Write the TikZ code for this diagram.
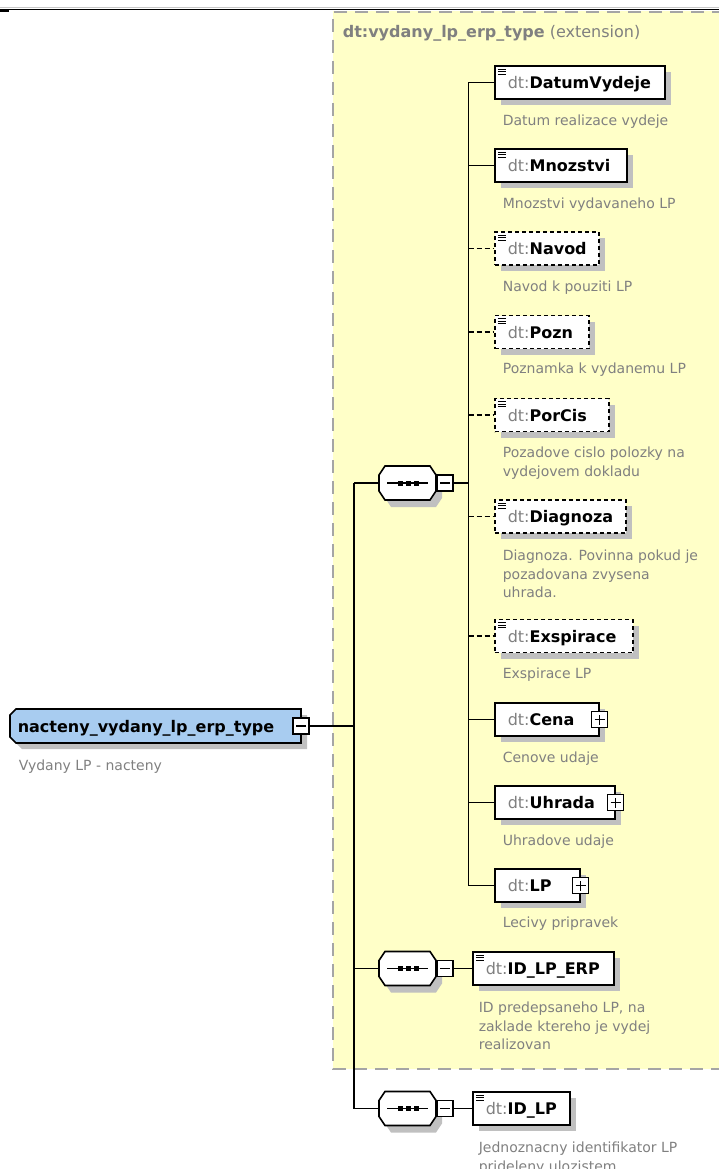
\documentclass[tikz,border=0pt]{standalone}
\usepackage{fontspec}
\setmainfont{DejaVu Sans}
\usetikzlibrary{shadows}

\definecolor{noteyellow}{RGB}{255,255,200}
\definecolor{typeblue}{RGB}{168,204,240}
\definecolor{shadegray}{RGB}{192,192,192}
\definecolor{infogray}{RGB}{128,128,128}
\definecolor{edgegray}{RGB}{165,165,165}

\newcommand\pfx{\textcolor{infogray}{dt:}}
\newcommand\namesize{\fontsize{16}{19}\selectfont}
\newcommand\descsize{\fontsize{14}{18.5}\selectfont}

\tikzset{
  elem/.style={draw=black, line width=1.6pt, fill=white, anchor=west,
    minimum height=33pt, inner xsep=13pt, inner ysep=0pt, align=left,
    text height=13.5pt, text depth=1.5pt, font=\namesize,
    drop shadow={shadow xshift=6pt, shadow yshift=-6pt, fill=shadegray, opacity=1}},
  optelem/.style={elem, dash pattern=on 4pt off 3pt},
  simple/.style={path picture={\foreach \k in {0,1,2}
      \draw[solid, line width=0.8pt] ([shift={(3pt,-3pt-2.5pt*\k)}]path picture bounding box.north west) -- ++(8pt,0);}},
  signbox/.style={draw=black, fill=white, line width=1.3pt, minimum width=16pt,
    minimum height=16pt, inner sep=0pt},
  minus/.style={signbox, path picture={\draw[line width=1.2pt]
      ([xshift=3pt]path picture bounding box.west) -- ([xshift=-3pt]path picture bounding box.east);}},
  plus/.style={signbox, path picture={\draw[line width=1.2pt]
      ([xshift=3pt]path picture bounding box.west) -- ([xshift=-3pt]path picture bounding box.east)
      ([yshift=3pt]path picture bounding box.south) -- ([yshift=-3pt]path picture bounding box.north);}},
  desc/.style={anchor=north west, inner sep=0pt, align=left, font=\descsize, text=infogray},
  opt/.style={dash pattern=on 5pt off 3pt}
}

% sequence compositor: name, middle y
\newcommand\seqgroup[2]{%
  \begin{scope}[shift={(379,#2)}]
    \fill[shadegray, shift={(6,7)}] (6,-17) -- (51,-17) -- (57,-8) -- (57,8) -- (51,17) -- (6,17) -- (0,8) -- (0,-8) -- cycle;
    \filldraw[fill=white, line width=1.6pt] (6,-17) -- (51,-17) -- (57,-8) -- (57,8) -- (51,17) -- (6,17) -- (0,8) -- (0,-8) -- cycle;
    \draw[line width=1.4pt] (8,0) -- (49,0);
    \foreach \d in {21,29,37} \fill (\d-2.5,-2.5) rectangle (\d+2.5,2.5);
  \end{scope}
  \node[inner sep=0pt, minimum width=57pt, minimum height=34pt] (#1) at (407.5,#2) {};
  \node[minus] (#1m) at (445,#2) {};
}

\begin{document}
\begin{tikzpicture}[x=1pt, y=-1pt, line width=1.6pt]
  \useasboundingbox (0,0) rectangle (719,1169);

  % window edge
  \draw[line width=1pt, black!22] (0,8) -- (719,8);
  \draw[line width=1.2pt] (0,9.6) -- (719,9.6);
  \draw[line width=1.5pt] (0,10.8) -- (9,10.8);

  % extension area
  \fill[noteyellow] (333,11) rectangle (725,1069);
  \draw[edgegray, line width=2pt, dash pattern=on 13pt off 8pt] (725,12) -- (333,12) -- (333,1069) -- (725,1069);
  \node[anchor=west, inner sep=0pt, font=\namesize, text=infogray] (ext) at (342,33)
    {\textbf{dt:vydany\_lp\_erp\_type} (extension)};

  % root type
  \fill[shadegray, shift={(6,6)}] (16,709) -- (301,709) -- (301,743) -- (16,743) -- (10,737) -- (10,715) -- cycle;
  \filldraw[fill=typeblue, line width=1.6pt] (16,709) -- (301,709) -- (301,743) -- (16,743) -- (10,737) -- (10,715) -- cycle;
  \node[anchor=west, inner sep=0pt, font=\namesize\bfseries, text height=13.5pt, text depth=1.5pt] (root) at (17,726)
    {nacteny\_vydany\_lp\_erp\_type};
  \node[minus] (rootm) at (301,726) {};
  \node[desc] (rootd) at (18,759.4) {Vydany LP - nacteny};

  % compositors
  \seqgroup{seqa}{483}
  \seqgroup{seqb}{968.5}
  \seqgroup{seqc}{1108.5}

  % elements of the first sequence
  \node[elem, simple, text width=144pt] (datum) at (494,82.5) {\pfx\textbf{DatumVydeje}};
  \node[desc] (datumd) at (502,114.4) {Datum realizace vydeje};
  \node[elem, simple, text width=106pt] (mnoz) at (494,165.5) {\pfx\textbf{Mnozstvi}};
  \node[desc] (mnozd) at (502,197.4) {Mnozstvi vydavaneho LP};
  \node[optelem, simple, text width=78pt] (navod) at (494,248.5) {\pfx\textbf{Navod}};
  \node[desc] (navodd) at (502,280.4) {Navod k pouziti LP};
  \node[optelem, simple, text width=68pt] (pozn) at (494,332) {\pfx\textbf{Pozn}};
  \node[desc] (poznd) at (502,362.4) {Poznamka k vydanemu LP};
  \node[optelem, simple, text width=88pt] (porcis) at (494,415) {\pfx\textbf{PorCis}};
  \node[desc] (porcisd) at (502,446.4) {Pozadove cislo polozky na\\vydejovem dokladu};
  \node[optelem, simple, text width=105pt] (diag) at (494,516.5) {\pfx\textbf{Diagnoza}};
  \node[desc] (diagd) at (502,549.4) {Diagnoza. Povinna pokud je\\pozadovana zvysena\\uhrada.};
  \node[optelem, simple, text width=112pt] (exsp) at (494,636) {\pfx\textbf{Exspirace}};
  \node[desc] (exspd) at (502,667.4) {Exspirace LP};
  \node[elem, text width=78pt] (cena) at (494,719.5) {\pfx\textbf{Cena}};
  \node[plus] (cenap) at (cena.east) {};
  \node[desc] (cenad) at (502,751.4) {Cenove udaje};
  \node[elem, text width=94pt] (uhr) at (494,802.5) {\pfx\textbf{Uhrada}};
  \node[plus] (uhrp) at (uhr.east) {};
  \node[desc] (uhrd) at (502,834.4) {Uhradove udaje};
  \node[elem, text width=59pt] (lp) at (494,885.5) {\pfx\textbf{LP}};
  \node[plus] (lpp) at (lp.east) {};
  \node[desc] (lpd) at (502,916.4) {Lecivy pripravek};

  % identifiers
  \node[elem, simple, text width=115pt] (iderp) at (472,968.5) {\pfx\textbf{ID\_LP\_ERP}};
  \node[desc] (iderpd) at (478,1001.4) {ID predepsaneho LP, na\\zaklade ktereho je vydej\\realizovan};
  \node[elem, simple, text width=71pt] (idlp) at (472,1108.5) {\pfx\textbf{ID\_LP}};
  \node[desc] (idlpd) at (478,1141.4) {Jednoznacny identifikator LP\\prideleny ulozistem};

  % connectors
  \coordinate (trunk) at (354,0);
  \coordinate (branch) at (468.5,0);
  \draw (rootm.east) -- (trunk |- rootm.east);
  \draw (trunk |- seqa.west) -- (trunk |- seqc.west);
  \draw (trunk |- seqa.west) -- (seqa.west);
  \draw (trunk |- seqb.west) -- (seqb.west);
  \draw (trunk |- seqc.west) -- (seqc.west);
  \draw (seqam.east) -- (branch |- seqam.east);
  \draw (branch |- datum.west) -- (branch |- lp.west);
  \draw (branch |- datum.west) -- (datum.west);
  \draw (branch |- mnoz.west) -- (mnoz.west);
  \draw[opt] (branch |- navod.west) -- (navod.west);
  \draw[opt] (branch |- pozn.west) -- (pozn.west);
  \draw[opt] (branch |- porcis.west) -- (porcis.west);
  \draw[opt] (branch |- diag.west) -- (diag.west);
  \draw[opt] (branch |- exsp.west) -- (exsp.west);
  \draw (branch |- cena.west) -- (cena.west);
  \draw (branch |- uhr.west) -- (uhr.west);
  \draw (branch |- lp.west) -- (lp.west);
  \draw (seqbm.east) -- (iderp.west);
  \draw (seqcm.east) -- (idlp.west);
\end{tikzpicture}
\end{document}
